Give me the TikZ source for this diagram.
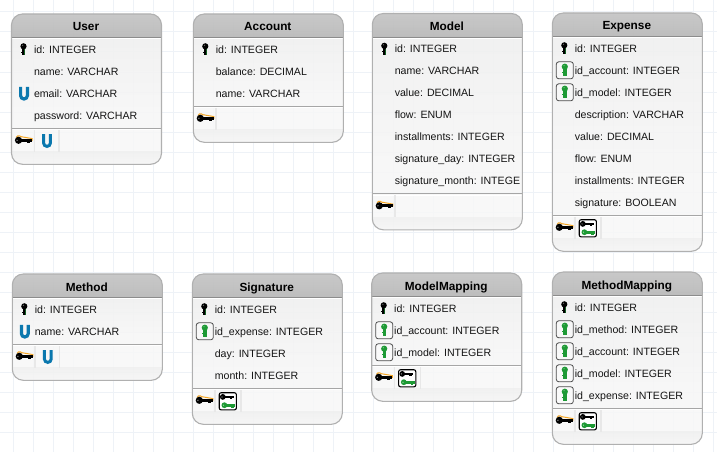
\documentclass[tikz,border=0pt]{standalone}
\usepackage{fontspec}
\setmainfont{Liberation Sans}
\definecolor{gridc}{HTML}{EEF2F7}
\definecolor{edgec}{HTML}{B0B0B0}
\definecolor{fkgreen}{HTML}{1E9A35}
\definecolor{ublue}{HTML}{0B78AE}
\definecolor{orangek}{HTML}{F5A623}
\tikzset{
  x=1pt,y=-1pt,
  rowtext/.style={anchor=base west,inner sep=0pt,font=\fontsize{10.6}{12}\selectfont,text=black!92},
  titletext/.style={anchor=base,inner sep=0pt,font=\fontsize{11.8}{13}\selectfont\bfseries,text=black},
  tableedge/.style={draw=edgec,line width=1.1pt},
  pics/vkey/.style={code={
    \fill[#1] (0,-3) circle[radius=3.1];
    \fill[#1] (-1.7,-2) rectangle (1.7,6);
    \fill[#1] (-2.6,2.4) rectangle (0,3.6);
    \fill[white,opacity=.4] (-.8,-4) circle[radius=.7];
  }},
  pics/pkkey/.style={code={
    \pic {vkey=black};
    \fill[fkgreen!60!black] (.3,0) rectangle (1.7,6);
  }},
  pics/hkey/.style={code={
    \fill[#1] (-5,0) circle[radius=3.6];
    \fill[#1] (-4,-1.5) rectangle (8.4,1.5);
    \fill[#1] (3.4,1) rectangle (6.6,2.6);
    \fill[white,opacity=.6] (-6.4,0) circle[radius=.7];
  }},
  pics/smallkey/.style={code={
    \fill[#1] (-4.2,0) circle[radius=2.9];
    \fill[#1] (-3,-1.3) rectangle (6.6,1.3);
    \fill[#1] (2.6,1) rectangle (5.4,2.5);
    \fill[white,opacity=.7] (-5,0) circle[radius=.6];
  }},
  pics/footkey/.style={code={
    \draw[orangek,line width=1pt] (-7.2,-2.9) arc[start angle=200,end angle=320,radius=2.6] -- (8.6,-1.7) -- (8.6,.6);
    \pic {hkey=black};
  }},
  pics/fkbox/.style={code={
    \draw[black!70,line width=.8pt,rounded corners=2.5pt,fill=white,fill opacity=.4] (-8.5,-8.5) rectangle (8.5,8.5);
    \pic at (0,-.6) {vkey=fkgreen};
  }},
  pics/uglyph/.style={code={
    \draw[ublue,line width=#1] (-3.4,-6.5) -- (-3.4,2.3) arc[start angle=180,end angle=360,radius=3.4,y radius=-3.4] -- (3.4,-6.5);
  }},
  pics/compositekey/.style={code={
    \draw[black,line width=1.1pt,rounded corners=2pt,fill=white] (-8.6,-8.6) rectangle (8.6,8.6);
    \pic at (-.8,-4.4) {smallkey=black};
    \pic at (.8,3.9) {smallkey=fkgreen};
  }},
}
\newcommand{\erdbox}[5]{% name, left, top, rows, title
  \def\bx{#2}\def\bt{#3}
  \pgfmathsetmacro{\bd}{#3+26.3+22*#4}
  \begin{scope}
    \path[clip,rounded corners=11pt] (#2,#3) rectangle (#2+150,\bd+36);
    \shade[top color=white!94!black,bottom color=white!97!black,fill opacity=.88] (#2,#3+23.5) rectangle (#2+150,\bd);
    \shade[top color=white!77!black,bottom color=white!72!black,fill opacity=.92] (#2,#3) rectangle (#2+150,#3+23.5);
    \fill[white!97!black,fill opacity=.85] (#2,\bd) rectangle (#2+150,\bd+23.5);
    \shade[top color=white!94!black,bottom color=white!96!black,fill opacity=.88] (#2,\bd+23.5) rectangle (#2+150,\bd+36);
    \draw[black!45,line width=.8pt] (#2,#3+23.5) -- (#2+150,#3+23.5);
    \draw[white,line width=.8pt] (#2,#3+24.5) -- (#2+150,#3+24.5);
    \draw[black!35,line width=.8pt] (#2,\bd) -- (#2+150,\bd);
    \draw[white,line width=1pt] (#2,\bd+1.2) -- (#2+150,\bd+1.2);
  \end{scope}
  \draw[tableedge,rounded corners=11pt] (#2,#3) rectangle (#2+150,\bd+36);
  \node[titletext] (#1-title) at (#2+74.5,#3+17) {#5};
}
\newcommand{\erdrow}[3]{% name-row index, row index, text
  \node[rowtext] (#1) at (\bx+\rowoff,\bt+39.3+22*#2) {#3};
}
\newcommand{\footcell}[1]{% cell left edge offset
  \fill[white!91!black] (\bx+#1,\bd+1.6) rectangle (\bx+#1+1.6,\bd+23.5);
}
\begin{document}
\begin{tikzpicture}
\useasboundingbox (0,0) rectangle (717,452);
\fill[white] (0,0) rectangle (717,452);
\foreach \gx in {13,33,...,713} \draw[gridc,line width=1pt] (\gx,0) -- (\gx,452);
\foreach \gy in {12,32,...,452} \draw[gridc,line width=1pt] (0,\gy) -- (717,\gy);
\def\rowoff{22.3}

% User
\erdbox{user}{11.5}{14}{4}{User}
\erdrow{user-r0}{0}{id: INTEGER}
\erdrow{user-r1}{1}{name: VARCHAR}
\erdrow{user-r2}{2}{email: VARCHAR}
\erdrow{user-r3}{3}{password: VARCHAR}
\pic at (\bx+12,\bt+35.3) {pkkey};
\pic at (\bx+12.5,\bt+35.3+44) {uglyph=3.2pt};
\footcell{22}\footcell{46.5}
\pic at (\bx+12,\bd+12) {footkey};
\pic at (\bx+35.5,\bd+12.4) {uglyph=3pt};

% Account
\erdbox{account}{193.3}{14}{3}{Account}
\erdrow{account-r0}{0}{id: INTEGER}
\erdrow{account-r1}{1}{balance: DECIMAL}
\erdrow{account-r2}{2}{name: VARCHAR}
\pic at (\bx+12,\bt+35.3) {pkkey};
\footcell{22}
\pic at (\bx+12,\bd+12) {footkey};

% Model
\erdbox{model}{372.3}{13.5}{7}{Model}
\erdrow{model-r0}{0}{id: INTEGER}
\erdrow{model-r1}{1}{name: VARCHAR}
\erdrow{model-r2}{2}{value: DECIMAL}
\erdrow{model-r3}{3}{flow: ENUM}
\erdrow{model-r4}{4}{installments: INTEGER}
\erdrow{model-r5}{5}{signature\_day: INTEGER}
\erdrow{model-r6}{6}{signature\_month: INTEGE}
\pic at (\bx+12,\bt+35.3) {pkkey};
\footcell{22}
\pic at (\bx+12,\bd+12) {footkey};

% Expense
\erdbox{expense}{552.3}{13}{8}{Expense}
\erdrow{expense-r0}{0}{id: INTEGER}
\erdrow{expense-r1}{1}{id\_account: INTEGER}
\erdrow{expense-r2}{2}{id\_model: INTEGER}
\erdrow{expense-r3}{3}{description: VARCHAR}
\erdrow{expense-r4}{4}{value: DECIMAL}
\erdrow{expense-r5}{5}{flow: ENUM}
\erdrow{expense-r6}{6}{installments: INTEGER}
\erdrow{expense-r7}{7}{signature: BOOLEAN}
\pic at (\bx+12,\bt+35.3) {pkkey};
\pic at (\bx+12.5,\bt+35.3+22) {fkbox};
\pic at (\bx+12.5,\bt+35.3+44) {fkbox};
\footcell{22}\footcell{48}
\pic at (\bx+12,\bd+12) {footkey};
\pic at (\bx+35.5,\bd+13) {compositekey};

% Method
\erdbox{method}{12.3}{274}{2}{Method}
\erdrow{method-r0}{0}{id: INTEGER}
\erdrow{method-r1}{1}{name: VARCHAR}
\pic at (\bx+12,\bt+35.3) {pkkey};
\pic at (\bx+12.5,\bt+35.3+22) {uglyph=3.2pt};
\footcell{22}\footcell{46.5}
\pic at (\bx+12,\bd+12) {footkey};
\pic at (\bx+35.5,\bd+12.4) {uglyph=3pt};

% Signature
\erdbox{signature}{192.3}{274}{4}{Signature}
\erdrow{signature-r0}{0}{id: INTEGER}
\erdrow{signature-r1}{1}{id\_expense: INTEGER}
\erdrow{signature-r2}{2}{day: INTEGER}
\erdrow{signature-r3}{3}{month: INTEGER}
\pic at (\bx+12,\bt+35.3) {pkkey};
\pic at (\bx+12.5,\bt+35.3+22) {fkbox};
\footcell{22}\footcell{48}
\pic at (\bx+12,\bd+12) {footkey};
\pic at (\bx+35.5,\bd+13) {compositekey};

% ModelMapping
\erdbox{modelmapping}{371.7}{273}{3}{ModelMapping}
\erdrow{modelmapping-r0}{0}{id: INTEGER}
\erdrow{modelmapping-r1}{1}{id\_account: INTEGER}
\erdrow{modelmapping-r2}{2}{id\_model: INTEGER}
\pic at (\bx+12,\bt+35.3) {pkkey};
\pic at (\bx+12.5,\bt+35.3+22) {fkbox};
\pic at (\bx+12.5,\bt+35.3+44) {fkbox};
\footcell{22}\footcell{48}
\pic at (\bx+12,\bd+12) {footkey};
\pic at (\bx+35.5,\bd+13) {compositekey};

% MethodMapping
\erdbox{methodmapping}{552.3}{272}{5}{MethodMapping}
\erdrow{methodmapping-r0}{0}{id: INTEGER}
\erdrow{methodmapping-r1}{1}{id\_method: INTEGER}
\erdrow{methodmapping-r2}{2}{id\_account: INTEGER}
\erdrow{methodmapping-r3}{3}{id\_model: INTEGER}
\erdrow{methodmapping-r4}{4}{id\_expense: INTEGER}
\pic at (\bx+12,\bt+35.3) {pkkey};
\pic at (\bx+12.5,\bt+35.3+22) {fkbox};
\pic at (\bx+12.5,\bt+35.3+44) {fkbox};
\pic at (\bx+12.5,\bt+35.3+66) {fkbox};
\pic at (\bx+12.5,\bt+35.3+88) {fkbox};
\footcell{22}\footcell{48}
\pic at (\bx+12,\bd+12) {footkey};
\pic at (\bx+35.5,\bd+13) {compositekey};
\end{tikzpicture}
\end{document}
